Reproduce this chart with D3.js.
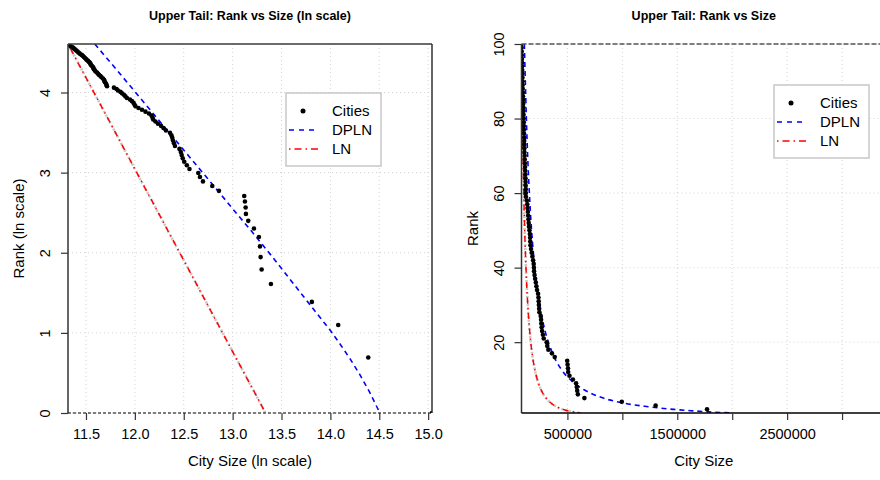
<!DOCTYPE html>
<html><head><meta charset="utf-8">
<script src="https://cdn.jsdelivr.net/npm/d3@7"></script>
<style>body{margin:0;background:#fff} svg{display:block}</style>
</head><body><svg id="c" width="880" height="480"></svg>
<script>
const FONT = '"Liberation Sans", Arial, Helvetica, sans-serif';

// ---- Data ----
const cityRank = [1,2,3,4,5,6,7,8,9,10,11,12,13,14,15,16,17,18,19,20,21,22,23,24,25,26,27,28,29,30,31,32,33,34,35,36,37,38,39,40,41,42,43,44,45,46,47,48,49,50,51,52,53,54,55,56,57,58,59,60,61,62,63,64,65,66,67,68,69,70,71,72,73,74,75,76,77,78,79,80,81,82,83,84,85,86,87,88,89,90,91,92,93,94,95,96,97,98,99,100];
const citySize = [3400000,1771000,1303000,995000,654600,595200,589100,585000,579000,550100,
  519000,506900,505300,501700,498200,384600,359200,326600,316700,311300,
  284500,277000,269700,265600,262700,260300,256800,245300,242800,240300,
  238600,236600,233100,223700,218100,212600,206100,200900,196300,194900,
  192900,188000,181400,175000,168900,163800,162100,160500,158000,154800,
  150100,147800,145600,142700,140500,136900,134900,131400,122400,121700,
  121100,119900,119300,118700,117400,115700,114500,112800,111600,110500,
  108800,108000,107100,106600,106000,105000,103900,103400,102800,101800,
  100800,99500,98700,97700,96700,95800,94800,93300,92400,91400,
  90500,89600,88700,87800,86900,86000,84700,83800,83000,82130];

const dplnSize = [108000,133300,162800,198800,242800,296600,362200,442400,540400,660000,806100,984600,1202600,1329100,1468900,1623300,1794100,1995000];
const dplnRank = [100,73.9,55.2,41.2,30.8,23.0,17.2,12.8,9.57,7.09,5.20,3.81,2.80,2.36,1.97,1.62,1.30,1.0];

const lnSize = [82130,89300,98700,111900,126800,143600,162800,184400,209000,236800,268300,304100,344600,390400,442400,501300,568100,619000];
const lnRank = [100,82.6,65.7,49.4,37.2,27.95,21.0,15.8,11.9,8.94,6.73,5.06,3.80,2.86,2.15,1.62,1.22,1.0];

const leftXTicks = [11.5,12.0,12.5,13.0,13.5,14.0,14.5,15.0];
const leftYTicks = [0,1,2,3,4];
const rightXTicks = [500000,1000000,1500000,2000000,2500000,3000000];
const rightXLabels = ["500000","","1500000","","2500000",""];
const rightYTicks = [20,40,60,80,100];

const legendLabels = ["Cities","DPLN","LN"];

// ---- Drawing ----
const svg = d3.select("#c");
const defs = svg.append("defs");
const sizeExtent = d3.extent(citySize);
const rankExtent = d3.extent(cityRank);

function panel(o) {
  const {x0,x1,y0,y1} = o.box;
  const x = o.x, y = o.y;
  const g = svg.append("g");
  defs.append("clipPath").attr("id","clip"+o.id).append("rect")
    .attr("x",x0).attr("y",y0).attr("width",x1-x0).attr("height",y1-y0);

  // grid
  const grid = g.append("g").attr("stroke","#d3d3d3").attr("stroke-dasharray","1,3").attr("stroke-width",1);
  grid.selectAll(".gx").data(o.xTicks).join("line").attr("class","gx")
    .attr("x1",d=>x(d)).attr("x2",d=>x(d)).attr("y1",y0).attr("y2",y1);
  grid.selectAll(".gy").data(o.yTicks).join("line").attr("class","gy")
    .attr("x1",x0).attr("x2",x1).attr("y1",d=>y(d)).attr("y2",d=>y(d));

  const plot = g.append("g").attr("clip-path",`url(#clip${o.id})`);
  const line = d3.line().x(d=>x(o.fx(d[0]))).y(d=>y(o.fy(d[1]))).curve(o.curve);
  const lnData = d3.zip(lnSize, lnRank);
  const dplnData = d3.zip(dplnSize, dplnRank);
  plot.append("path").attr("d",line(lnData)).attr("fill","none")
    .attr("stroke","#c8c8c8").attr("stroke-width",2.6).attr("stroke-dasharray","2,2");
  plot.append("path").attr("d",line(lnData)).attr("fill","none")
    .attr("stroke","#ff0000").attr("stroke-width",1.5).attr("stroke-dasharray","1.5,4,6,4");
  plot.append("path").attr("d",line(dplnData)).attr("fill","none")
    .attr("stroke","#0000ff").attr("stroke-width",1.6).attr("stroke-dasharray","5,4");

  plot.selectAll("circle").data(d3.zip(citySize, cityRank)).join("circle")
    .attr("cx",d=>x(o.fx(d[0]))).attr("cy",d=>y(o.fy(d[1]))).attr("r",2.3).attr("fill","#000");

  // frame
  const fr = g.append("g").attr("fill","none");
  fr.append("line").attr("x1",x0).attr("x2",x0).attr("y1",y0).attr("y2",y1).attr("stroke","#333").attr("stroke-width",1.5);
  fr.append("line").attr("x1",x1).attr("x2",x1).attr("y1",y0).attr("y2",y1).attr("stroke","#333").attr("stroke-width",1.5);
  if (o.id === "L") {
    fr.append("line").attr("x1",x0).attr("x2",x1).attr("y1",y0).attr("y2",y0).attr("stroke","#3a3a3a").attr("stroke-width",1.5);
    fr.append("line").attr("x1",x0).attr("x2",x1).attr("y1",y1).attr("y2",y1).attr("stroke","#000").attr("stroke-width",1.2).attr("stroke-dasharray","3,2");
  } else {
    fr.append("line").attr("x1",x0).attr("x2",x1).attr("y1",y0).attr("y2",y0).attr("stroke","#555").attr("stroke-width",1.6).attr("stroke-dasharray","5,2");
    fr.append("line").attr("x1",x0).attr("x2",x1).attr("y1",y1).attr("y2",y1).attr("stroke","#000").attr("stroke-width",1.5);
  }

  // axes
  const xa = g.append("g").attr("transform",`translate(0,${y1})`)
    .call(d3.axisBottom(x).tickValues(o.xTicks).tickSize(7).tickFormat(o.xFmt));
  xa.select(".domain").remove();
  xa.attr("font-family",FONT).attr("font-size",14.5);
  xa.selectAll("line").attr("stroke","#333").attr("stroke-width",1.2);
  xa.selectAll("text").attr("y",26).attr("dy",null).attr("fill","#000");

  const ya = g.append("g").attr("transform",`translate(${x0},0)`)
    .call(d3.axisLeft(y).tickValues(o.yTicks).tickSize(7).tickFormat(o.yFmt));
  ya.select(".domain").remove();
  ya.attr("font-family",FONT).attr("font-size",14.5);
  ya.selectAll("line").attr("stroke","#333").attr("stroke-width",1.2);
  ya.selectAll("text").attr("x",null).attr("dy",null).attr("text-anchor","middle")
    .attr("transform","translate(-18,0) rotate(-90)").attr("fill","#000");

  // titles
  g.append("text").attr("x",(x0+x1)/2).attr("y",20).attr("text-anchor","middle")
    .attr("font-family",FONT).attr("font-weight","bold").attr("font-size",12.5).text(o.title);
  g.append("text").attr("x",(x0+x1)/2).attr("y",466).attr("text-anchor","middle")
    .attr("font-family",FONT).attr("font-size",15).text(o.xTitle);
  g.append("text").attr("transform",`translate(${o.yTitleX},${(y0+y1)/2}) rotate(-90)`).attr("text-anchor","middle")
    .attr("font-family",FONT).attr("font-size",15).text(o.yTitle);

  // legend
  const lg = g.append("g").attr("transform",`translate(${o.legend[0]},${o.legend[1]})`);
  lg.append("rect").attr("width",95).attr("height",73).attr("fill","#fff").attr("stroke","#c8c8c8").attr("stroke-width",1.5);
  const rows = [18,37,56];
  lg.append("circle").attr("cx",17).attr("cy",rows[0]).attr("r",2.5).attr("fill","#000");
  lg.append("line").attr("x1",2).attr("x2",33).attr("y1",rows[1]).attr("y2",rows[1]).attr("stroke","#0000ff").attr("stroke-width",1.6).attr("stroke-dasharray","5,5").attr("stroke-dashoffset",-1);
  lg.append("line").attr("x1",2).attr("x2",33).attr("y1",rows[2]).attr("y2",rows[2]).attr("stroke","#ff0000").attr("stroke-width",1.6).attr("stroke-dasharray","1.5,4,7,4").attr("stroke-dashoffset",-1);
  lg.selectAll("text").data(legendLabels).join("text")
    .attr("x",46).attr("y",(d,i)=>rows[i]).attr("dy","0.36em")
    .attr("font-family",FONT).attr("font-size",15).text(d=>d);
}

panel({
  id:"L", box:{x0:68,x1:432,y0:44,y1:413},
  x: d3.scaleLinear().domain([Math.log(sizeExtent[0]), Math.log(sizeExtent[1])]).range([68,432]),
  y: d3.scaleLinear().domain([Math.log(rankExtent[0]), Math.log(rankExtent[1])]).range([413,44]),
  fx: Math.log, fy: Math.log, curve: d3.curveLinear,
  xTicks: leftXTicks, yTicks: leftYTicks,
  xFmt: d3.format(".1f"), yFmt: d3.format("d"),
  title: "Upper Tail: Rank vs Size (ln scale)", xTitle: "City Size (ln scale)", yTitle: "Rank (ln scale)",
  yTitleX: 24, legend:[286,93]
});

panel({
  id:"R", box:{x0:521.5,x1:886,y0:44,y1:413},
  x: d3.scaleLinear().domain(sizeExtent).range([521.5,886]),
  y: d3.scaleLinear().domain(rankExtent).range([413,44]),
  fx: d=>d, fy: d=>d, curve: d3.curveMonotoneX,
  xTicks: rightXTicks, yTicks: rightYTicks,
  xFmt: (d,i)=>rightXLabels[i], yFmt: d3.format("d"),
  title: "Upper Tail: Rank vs Size", xTitle: "City Size", yTitle: "Rank",
  yTitleX: 478, legend:[774,85]
});
</script></body></html>
